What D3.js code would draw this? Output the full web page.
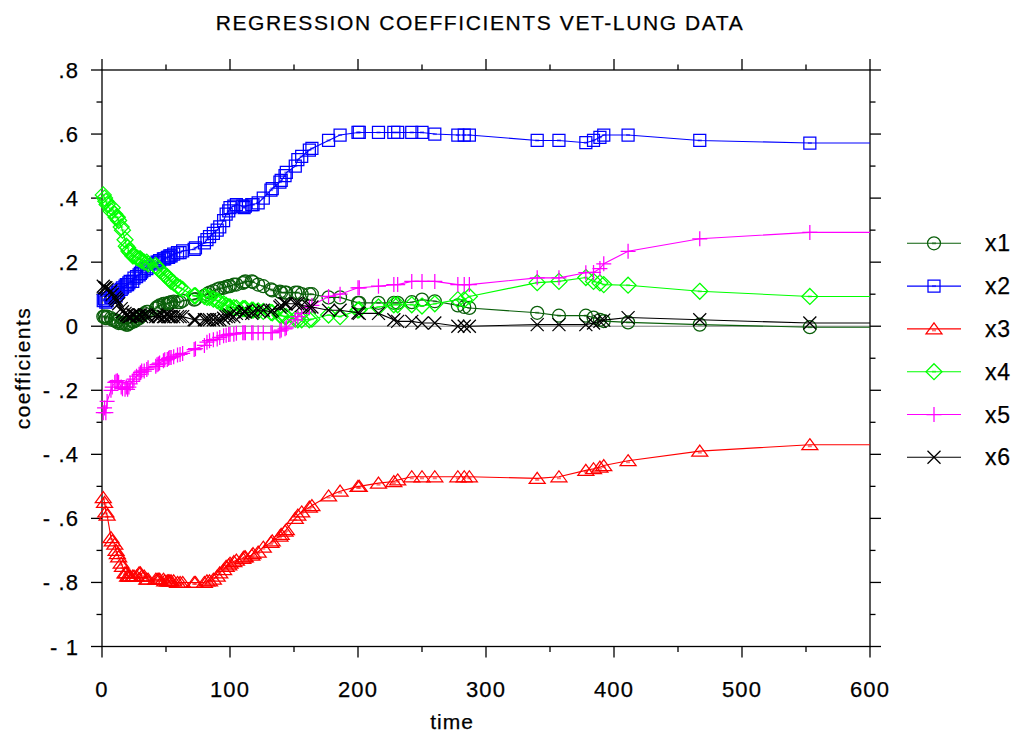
<!DOCTYPE html>
<html>
<head>
<meta charset="utf-8">
<script src="https://cdn.jsdelivr.net/npm/d3@7"></script>
<style>
  html, body { margin: 0; padding: 0; background: #fff; }
  svg { display: block; font-family: "Liberation Sans", Arial, sans-serif; }
  svg text { fill: #000; stroke: #000; stroke-width: 0.25px; }
  .tick-label { font-size: 22px; letter-spacing: 1.1px; }
</style>
</head>
<body>
<svg id="chart" width="1015" height="734"></svg>
<script>
const width = 1015;
const height = 734;
const plot = { left: 102, right: 870, top: 70, bottom: 646.5 };

// event times (days) where the coefficients are estimated
const times = [
  1, 2, 3, 4, 7, 8, 10, 11, 12, 13,
  15, 16, 18, 19, 20, 21, 22, 24, 25, 27,
  29, 30, 31, 33, 35, 36, 42, 43, 44, 45,
  48, 49, 51, 52, 53, 54, 56, 59, 61, 63,
  72, 73, 80, 82, 84, 87, 90, 92, 95, 97,
  99, 100, 103, 105, 110, 111, 112, 117, 118, 122,
  126, 132, 133, 139, 140, 143, 144, 151, 153, 156,
  162, 164, 177, 186, 200, 201, 216, 228, 231, 242,
  250, 260, 278, 283, 287, 340, 357, 378, 384, 389,
  392, 411, 467, 553,
];

const x1 = [
  0.03, 0.03, 0.025, 0.03, 0.025, 0.02, 0.02, 0.015, 0.015, 0.01,
  0.01, 0.01, 0.01, 0.005, 0.005, 0.01, 0.01, 0.015, 0.015, 0.02,
  0.025, 0.03, 0.035, 0.04, 0.045, 0.045, 0.055, 0.06, 0.06, 0.065,
  0.07, 0.07, 0.07, 0.073, 0.073, 0.075, 0.077, 0.075, 0.075, 0.08,
  0.083, 0.085, 0.095, 0.1, 0.105, 0.11, 0.115, 0.118, 0.12, 0.123,
  0.125, 0.125, 0.13, 0.13, 0.135, 0.138, 0.14, 0.14, 0.138, 0.13,
  0.125, 0.115, 0.112, 0.108, 0.105, 0.105, 0.105, 0.105, 0.105, 0.1,
  0.1, 0.1, 0.09, 0.09, 0.073, 0.073, 0.073, 0.073, 0.073, 0.075,
  0.083, 0.078, 0.065, 0.06, 0.057, 0.042, 0.033, 0.033, 0.027, 0.02,
  0.016, 0.012, 0.005, -0.003,
];
const x2 = [
  0.08, 0.085, 0.075, 0.08, 0.09, 0.095, 0.1, 0.095, 0.105, 0.11,
  0.115, 0.12, 0.125, 0.13, 0.13, 0.135, 0.14, 0.14, 0.15, 0.155,
  0.16, 0.165, 0.17, 0.175, 0.18, 0.185, 0.195, 0.2, 0.2, 0.205,
  0.21, 0.21, 0.215, 0.215, 0.22, 0.22, 0.225, 0.23, 0.23, 0.235,
  0.24, 0.245, 0.26, 0.27, 0.28, 0.29, 0.3, 0.31, 0.33, 0.35,
  0.36, 0.37, 0.375, 0.38, 0.375, 0.37, 0.375, 0.38, 0.38, 0.385,
  0.4, 0.425, 0.43, 0.45, 0.455, 0.47, 0.48, 0.5, 0.52, 0.53,
  0.55, 0.555, 0.58, 0.597, 0.605, 0.605, 0.605, 0.605, 0.605, 0.605,
  0.605, 0.6, 0.597, 0.597, 0.597, 0.58, 0.58, 0.573, 0.58, 0.59,
  0.597, 0.597, 0.58, 0.572,
];
const x3 = [
  -0.535, -0.55, -0.58, -0.59, -0.66, -0.67, -0.68, -0.7, -0.71, -0.72,
  -0.74, -0.75, -0.77, -0.77, -0.78, -0.78, -0.78, -0.78, -0.78, -0.78,
  -0.77, -0.77, -0.78, -0.78, -0.79, -0.79, -0.79, -0.79, -0.79, -0.79,
  -0.79, -0.795, -0.795, -0.795, -0.795, -0.795, -0.795, -0.8, -0.8, -0.8,
  -0.8, -0.8, -0.8, -0.795, -0.795, -0.79, -0.78, -0.77, -0.76, -0.75,
  -0.745, -0.74, -0.735, -0.73, -0.725, -0.72, -0.72, -0.715, -0.71, -0.705,
  -0.69, -0.675, -0.67, -0.655, -0.65, -0.64, -0.635, -0.6, -0.59, -0.58,
  -0.565, -0.56, -0.53, -0.515, -0.5, -0.5, -0.49, -0.485, -0.48, -0.47,
  -0.47, -0.47, -0.47, -0.47, -0.47, -0.475, -0.47, -0.45, -0.445, -0.44,
  -0.435, -0.42, -0.39, -0.37,
];
const x4 = [
  0.41, 0.4, 0.39, 0.38, 0.36, 0.37, 0.35, 0.34, 0.34, 0.33,
  0.31, 0.3, 0.27, 0.25, 0.245, 0.235, 0.23, 0.22, 0.22, 0.215,
  0.21, 0.21, 0.205, 0.2, 0.2, 0.195, 0.19, 0.185, 0.18, 0.175,
  0.165, 0.16, 0.155, 0.15, 0.145, 0.14, 0.135, 0.125, 0.12, 0.115,
  0.095, 0.095, 0.093, 0.09, 0.09, 0.085, 0.08, 0.075, 0.07, 0.065,
  0.06, 0.06, 0.058, 0.057, 0.055, 0.055, 0.055, 0.05, 0.05, 0.048,
  0.046, 0.043, 0.042, 0.035, 0.033, 0.03, 0.03, 0.022, 0.02, 0.02,
  0.02, 0.022, 0.035, 0.03, 0.05, 0.052, 0.06, 0.067, 0.067, 0.067,
  0.063, 0.07, 0.083, 0.083, 0.093, 0.136, 0.14, 0.152, 0.14, 0.135,
  0.13, 0.128, 0.109, 0.093,
];
const x5 = [
  -0.27, -0.255, -0.27, -0.235, -0.2, -0.19, -0.175, -0.172, -0.17, -0.175,
  -0.19, -0.195, -0.197, -0.19, -0.197, -0.19, -0.18, -0.172, -0.165, -0.156,
  -0.15, -0.145, -0.14, -0.14, -0.135, -0.13, -0.125, -0.12, -0.118, -0.115,
  -0.108, -0.105, -0.104, -0.1, -0.098, -0.098, -0.095, -0.09, -0.088, -0.085,
  -0.073, -0.07, -0.06, -0.05, -0.045, -0.042, -0.04, -0.035, -0.03, -0.028,
  -0.026, -0.025, -0.025, -0.022, -0.02, -0.02, -0.02, -0.02, -0.02, -0.02,
  -0.02, -0.02, -0.02, -0.015, -0.012, -0.008, -0.005, 0.02, 0.03, 0.04,
  0.058, 0.065, 0.093, 0.1, 0.12, 0.12, 0.125, 0.13, 0.13, 0.14,
  0.14, 0.14, 0.13, 0.13, 0.13, 0.151, 0.151, 0.167, 0.168, 0.18,
  0.195, 0.234, 0.273, 0.293,
];
const x6 = [
  0.125, 0.12, 0.12, 0.115, 0.11, 0.1, 0.09, 0.085, 0.08, 0.07,
  0.055, 0.045, 0.04, 0.035, 0.035, 0.03, 0.03, 0.035, 0.035, 0.03,
  0.035, 0.035, 0.03, 0.035, 0.035, 0.03, 0.03, 0.035, 0.03, 0.03,
  0.03, 0.03, 0.035, 0.03, 0.03, 0.03, 0.03, 0.03, 0.03, 0.03,
  0.02, 0.02, 0.02, 0.02, 0.02, 0.02, 0.02, 0.02, 0.025, 0.03,
  0.03, 0.035, 0.03, 0.04, 0.04, 0.045, 0.045, 0.04, 0.045, 0.05,
  0.05, 0.045, 0.05, 0.06, 0.065, 0.07, 0.07, 0.07, 0.07, 0.065,
  0.06, 0.06, 0.05, 0.05, 0.042, 0.04, 0.04, 0.02, 0.015, 0.015,
  0.01, 0.01, 0, 0, 0, 0.005, 0.005, 0.005, 0.01, 0.015,
  0.019, 0.027, 0.02, 0.01,
];

const seriesNames = ["x1", "x2", "x3", "x4", "x5", "x6"];
const seriesValues = [x1, x2, x3, x4, x5, x6];
const seriesColors = ["#0a5f0a", "#0000ff", "#ff0000", "#00ff00", "#ff00ff", "#000000"];
const seriesShapes = ["circle", "square", "triangle", "diamond", "plus", "cross"];

const xTicks = [0, 100, 200, 300, 400, 500, 600];
const xMinor = [50, 150, 250, 350, 450, 550];
const yTicks = [0.8, 0.6, 0.4, 0.2, 0, -0.2, -0.4, -0.6, -0.8, -1];
const yTickLabels = [".8", ".6", ".4", ".2", "0", "- .2", "- .4", "- .6", "- .8", "- 1"];
const yMinor = [0.7, 0.5, 0.3, 0.1, -0.1, -0.3, -0.5, -0.7, -0.9];

const svg = d3.select("#chart").attr("viewBox", [0, 0, width, height]);

const x = d3.scaleLinear().domain([0, 600]).range([plot.left, plot.right]);
const y = d3.scaleLinear().domain([-1, 0.8]).range([plot.bottom, plot.top]);

// title and axis titles
svg.append("text")
  .attr("x", 480).attr("y", 30)
  .attr("text-anchor", "middle")
  .attr("font-size", 21).attr("letter-spacing", 1.6)
  .text("REGRESSION COEFFICIENTS VET-LUNG DATA");
svg.append("text")
  .attr("x", 452).attr("y", 729)
  .attr("text-anchor", "middle")
  .attr("font-size", 21).attr("letter-spacing", 1)
  .text("time");
svg.append("text")
  .attr("transform", "translate(30,368) rotate(-90)")
  .attr("text-anchor", "middle")
  .attr("font-size", 21).attr("letter-spacing", 1.5)
  .text("coefficients");

// zero reference line
svg.append("line")
  .attr("x1", x(0)).attr("x2", x(600))
  .attr("y1", y(0)).attr("y2", y(0))
  .attr("stroke", "#808080").attr("stroke-width", 1);

// frame with outward ticks on all four sides
const frame = svg.append("g").attr("stroke", "#000").attr("stroke-width", 1.3);
frame.append("rect")
  .attr("x", plot.left).attr("y", plot.top)
  .attr("width", plot.right - plot.left).attr("height", plot.bottom - plot.top)
  .attr("fill", "none");

const major = 11, minor = 5.5;
xTicks.concat(xMinor).forEach((t) => {
  const len = xTicks.includes(t) ? major : minor;
  frame.append("line").attr("x1", x(t)).attr("x2", x(t))
    .attr("y1", plot.bottom).attr("y2", plot.bottom + len);
  frame.append("line").attr("x1", x(t)).attr("x2", x(t))
    .attr("y1", plot.top).attr("y2", plot.top - len);
});
yTicks.concat(yMinor).forEach((v) => {
  const len = yTicks.includes(v) ? major : minor;
  frame.append("line").attr("y1", y(v)).attr("y2", y(v))
    .attr("x1", plot.left).attr("x2", plot.left - len);
  frame.append("line").attr("y1", y(v)).attr("y2", y(v))
    .attr("x1", plot.right).attr("x2", plot.right + len);
});

svg.append("g").selectAll("text")
  .data(xTicks)
  .join("text")
  .attr("class", "tick-label")
  .attr("x", (d) => x(d))
  .attr("y", 697)
  .attr("text-anchor", "middle")
  .text((d) => d);
svg.append("g").selectAll("text")
  .data(yTicks)
  .join("text")
  .attr("class", "tick-label")
  .attr("x", 79)
  .attr("y", (d) => y(d) + 8)
  .attr("text-anchor", "end")
  .text((d, i) => yTickLabels[i]);

// marker shapes, centred on 0,0
function markerPath(shape) {
  switch (shape) {
    case "circle": return d3.symbol(d3.symbolCircle, Math.PI * 42)();
    case "square": return "M-6,-6H6V6H-6Z";
    case "triangle": return "M0,-6L8,5H-8Z";
    case "diamond": return "M0,-8L8,0L0,8L-8,0Z";
    case "plus": return "M-7.5,0H7.5M0,-7.5V7.5";
    case "cross": return "M-6.5,-6.5L6.5,6.5M-6.5,6.5L6.5,-6.5";
  }
}
function drawMarker(g, shape, color) {
  g.append("path")
    .attr("d", markerPath(shape))
    .attr("fill", "none")
    .attr("stroke", color)
    .attr("stroke-width", 1.25);
  if (["circle", "square", "triangle", "diamond"].includes(shape)) {
    g.append("rect")
      .attr("x", -2).attr("y", shape === "triangle" ? 0.5 : -1)
      .attr("width", 4).attr("height", 2)
      .attr("fill", color).attr("opacity", 0.55);
  }
}

const line = d3.line().x((d) => x(d[0])).y((d) => y(d[1]));

seriesNames.forEach((name, s) => {
  const vals = seriesValues[s];
  const pts = times.map((t, i) => [t, vals[i]]);
  const color = seriesColors[s];
  const g = svg.append("g").attr("class", "series-" + name);
  g.append("path")
    .datum(pts.concat([[600, vals[vals.length - 1]]]))
    .attr("d", line)
    .attr("fill", "none")
    .attr("stroke", color)
    .attr("stroke-width", 1.1);
  g.selectAll("g.pt")
    .data(pts)
    .join("g")
    .attr("class", "pt")
    .attr("transform", (d) => `translate(${x(d[0])},${y(d[1])})`)
    .each(function () { drawMarker(d3.select(this), seriesShapes[s], color); });
});

// legend
const legend = svg.append("g");
seriesNames.forEach((name, s) => {
  const ly = 243.3 + s * 42.8;
  const row = legend.append("g");
  row.append("line")
    .attr("x1", 907).attr("x2", 961)
    .attr("y1", ly).attr("y2", ly)
    .attr("stroke", seriesColors[s]).attr("stroke-width", 1.1);
  drawMarker(row.append("g").attr("transform", `translate(934,${ly})`), seriesShapes[s], seriesColors[s]);
  row.append("text")
    .attr("x", 985).attr("y", ly + 8)
    .attr("font-size", 23).attr("letter-spacing", 0.8)
    .text(name);
});
</script>
</body>
</html>
